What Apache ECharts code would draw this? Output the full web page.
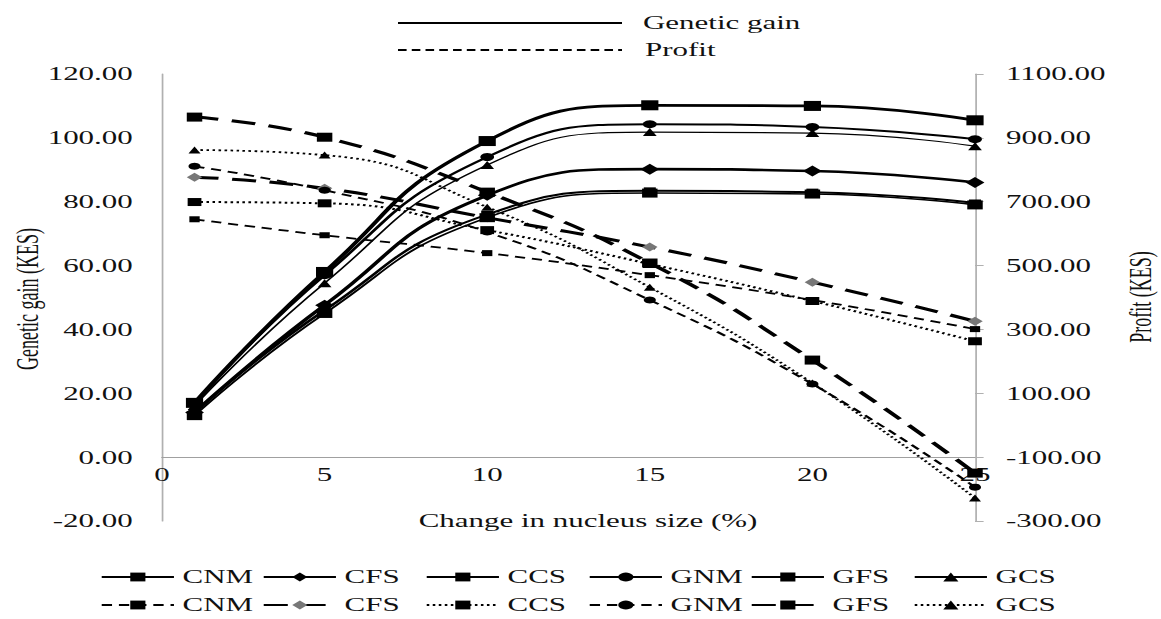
<!DOCTYPE html>
<html><head><meta charset="utf-8">
<script src="https://cdn.jsdelivr.net/npm/echarts@6/dist/echarts.min.js"></script>
<style>
html,body{margin:0;padding:0;background:#fff;overflow:hidden;width:1161px;height:619px}
#wrap{position:absolute;left:0;top:0;width:1161px;height:619px;overflow:hidden}
#chart{position:absolute;left:0;top:0;width:675px;height:619px;transform:scaleX(1.72);transform-origin:0 0}
</style></head><body>
<div id="wrap"><div id="chart"></div></div>
<script>
// ---- data ----
const xValues = [1, 5, 10, 15, 20, 25];
const xTickLabels = ['0', '5', '10', '15', '20', '25'];
const seriesNames = ['CNM', 'CFS', 'CCS', 'GNM', 'GFS', 'GCS'];

// Genetic gain (KES), left axis
const gainCNM = [13, 45, 75, 82.7, 82.4, 79];
const gainCFS = [14, 47.6, 82, 90.2, 89.6, 86];
const gainCCS = [14, 46, 76, 83.4, 83, 79.6];
const gainGNM = [16.5, 57, 94, 104.3, 103.4, 99.6];
const gainGFS = [17, 58, 99, 110.2, 110, 105.5];
const gainGCS = [16, 54.5, 91.5, 101.8, 101.5, 97.4];

// Profit (KES), right axis
const profitCNM = [645, 595, 539, 470, 392, 301];
const profitCFS = [777, 742, 650, 558, 448, 326];
const profitCCS = [699, 695, 611, 505, 389, 263];
const profitGNM = [811, 736, 605, 392, 129, -194];
const profitGFS = [965, 902, 730, 508, 204, -150];
const profitGCS = [862, 846, 683, 432, 132, -228];

const gainData = [gainCNM, gainCFS, gainCCS, gainGNM, gainGFS, gainGCS];
const profitData = [profitCNM, profitCFS, profitCCS, profitGNM, profitGFS, profitGCS];

// ---- styles ----
const FONT = '"Liberation Serif", "Times New Roman", serif';
const gainStyle = [
  {symbol: 'rect', size: 9, width: 1.5},
  {symbol: 'diamond', size: 11, width: 2.6},
  {symbol: 'rect', size: 7, width: 2},
  {symbol: 'circle', size: 8, width: 2},
  {symbol: 'rect', size: 10, width: 2.8},
  {symbol: 'triangle', size: 8, width: 1.2}
];
const profitStyle = [
  {symbol: 'rect', size: 6, width: 1.8, type: [6, 4], color: '#000'},
  {symbol: 'diamond', size: 9, width: 3, type: [14, 8], color: '#777'},
  {symbol: 'rect', size: 8, width: 2, type: [1.5, 2], color: '#000'},
  {symbol: 'circle', size: 7, width: 1.8, type: [6, 4], color: '#000'},
  {symbol: 'rect', size: 9, width: 3, type: [14, 8], color: '#000'},
  {symbol: 'triangle', size: 7, width: 1.8, type: [1.5, 2], color: '#000'}
];

const series = [];
seriesNames.forEach((n, i) => {
  const s = gainStyle[i];
  series.push({
    name: n, type: 'line', yAxisIndex: 0, smooth: 0.5,
    symbol: s.symbol, symbolSize: s.size,
    itemStyle: {color: '#000'},
    lineStyle: {color: '#000', width: s.width, type: 'solid'},
    data: xValues.map((x, k) => [x, gainData[i][k]]),
    z: 3
  });
});
seriesNames.forEach((n, i) => {
  const s = profitStyle[i];
  series.push({
    name: n + ' profit', type: 'line', yAxisIndex: 1, smooth: 0.5,
    symbol: s.symbol, symbolSize: s.size,
    itemStyle: {color: s.color},
    lineStyle: {color: '#000', width: s.width, type: s.type, cap: 'butt'},
    data: xValues.map((x, k) => [x, profitData[i][k]]),
    z: 2
  });
});

const S = 1.72;
const GRID_TOP = 74, GRID_BOTTOM = 98, H = 619;
const plotH = H - GRID_TOP - GRID_BOTTOM;
const leftMin = -20, leftMax = 120;
const zeroOffset = -((0 - leftMin) / (leftMax - leftMin)) * plotH;

const legendLefts = [100, 262, 425, 588, 750, 913].map(v => v / S);
const legends = [];
seriesNames.forEach((n, i) => {
  legends.push({
    data: [n], left: legendLefts[i], top: 568, padding: 0,
    itemWidth: 42, itemHeight: 11, itemGap: 0, selectedMode: false,
    textStyle: {fontFamily: FONT, fontSize: 18, color: '#111'},
    formatter: name => name
  });
  legends.push({
    data: [n + ' profit'], left: legendLefts[i], top: 596, padding: 0,
    itemWidth: 42, itemHeight: 11, itemGap: 0, selectedMode: false,
    textStyle: {fontFamily: FONT, fontSize: 18, color: '#111'},
    formatter: name => name.replace(' profit', '')
  });
});

const chart = echarts.init(document.getElementById('chart'), null, {renderer: 'svg'});
chart.setOption({
  animation: false,
  backgroundColor: '#fff',
  grid: {left: 162 / S, right: 675 - 975 / S, top: GRID_TOP, bottom: GRID_BOTTOM, containLabel: false},
  xAxis: {
    type: 'value', min: 0, max: 25, interval: 5, position: 'bottom', offset: zeroOffset,
    axisLine: {show: true, onZero: false, lineStyle: {color: '#a0a0a0', width: 1}},
    axisTick: {show: false},
    splitLine: {show: false},
    axisLabel: {margin: 8, fontFamily: FONT, fontSize: 18, color: '#111',
      formatter: v => xTickLabels[xTickLabels.indexOf(String(v))] ?? String(v)}
  },
  yAxis: [
    {
      type: 'value', min: leftMin, max: leftMax, interval: 20, position: 'left',
      axisLine: {show: true, lineStyle: {color: '#b0b0b0', width: 1}},
      axisTick: {show: false}, splitLine: {show: false},
      axisLabel: {margin: 17, fontFamily: FONT, fontSize: 18, color: '#111', formatter: v => v.toFixed(2)}
    },
    {
      type: 'value', min: -300, max: 1100, interval: 200, position: 'right',
      axisLine: {show: true, lineStyle: {color: '#b0b0b0', width: 1}},
      axisTick: {show: true, length: 5, lineStyle: {color: '#b0b0b0'}}, splitLine: {show: false},
      axisLabel: {margin: 18, fontFamily: FONT, fontSize: 18, color: '#111', formatter: v => v.toFixed(2)}
    }
  ],
  legend: legends,
  graphic: [
    {type: 'line', shape: {x1: 398 / S, y1: 23, x2: 622 / S, y2: 23}, style: {stroke: '#000', lineWidth: 2}},
    {type: 'text', x: 643 / S, y: 23, style: {text: 'Genetic gain', fontFamily: FONT, fontSize: 18, fill: '#111', verticalAlign: 'middle'}},
    {type: 'line', shape: {x1: 398 / S, y1: 50, x2: 622 / S, y2: 50}, style: {stroke: '#000', lineWidth: 2, lineDash: [5, 3]}},
    {type: 'text', x: 645 / S, y: 50, style: {text: 'Profit', fontFamily: FONT, fontSize: 18, fill: '#111', verticalAlign: 'middle'}},
    {type: 'text', x: 588 / S, y: 521, style: {text: 'Change in nucleus size (%)', fontFamily: FONT, fontSize: 18, fill: '#111', align: 'center', verticalAlign: 'middle'}},
    {type: 'text', x: 27 / S, y: 299, rotation: Math.PI / 2, style: {text: 'Genetic gain (KES)', fontFamily: FONT, fontSize: 18, fill: '#111', align: 'center', verticalAlign: 'middle'}},
    {type: 'text', x: 1140 / S, y: 297, rotation: Math.PI / 2, style: {text: 'Profit (KES)', fontFamily: FONT, fontSize: 18, fill: '#111', align: 'center', verticalAlign: 'middle'}}
  ],
  series: series
});
</script>
</body></html>
